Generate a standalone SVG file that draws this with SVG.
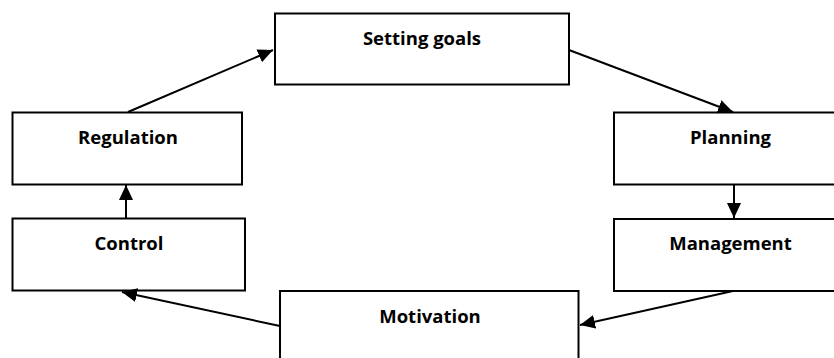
<svg xmlns="http://www.w3.org/2000/svg" width="834" height="358" viewBox="0 0 834 358">
<style>
.box{fill:#fff;stroke:#000;stroke-width:2}
.lbl{font-family:"Open Sans","Noto Sans","Liberation Sans",sans-serif;font-weight:bold;font-size:18.5px;fill:#000;text-anchor:middle}
.con{stroke:#000;stroke-width:2;fill:none;marker-end:url(#ah)}
</style>
<defs>
<marker id="ah" markerUnits="userSpaceOnUse" markerWidth="16" markerHeight="16" viewBox="0 0 16 16" refX="15" refY="8" orient="auto">
<path d="M0,1 L15,8 L0,15 Z" fill="#000"/>
</marker>
</defs>
<rect width="834" height="358" fill="#fff"/>
<g id="setting-goals"><rect class="box" x="275" y="13.5" width="294" height="71"/><text class="lbl" x="422" y="45">Setting goals</text></g>
<g id="planning"><rect class="box" x="614" y="112.5" width="240" height="72"/><text class="lbl" x="730.5" y="143.5">Planning</text></g>
<g id="management"><rect class="box" x="614" y="219" width="240" height="72"/><text class="lbl" x="730.5" y="250">Management</text></g>
<g id="motivation"><rect class="box" x="280" y="291" width="298.5" height="80"/><text class="lbl" x="430" y="322.5">Motivation</text></g>
<g id="control"><rect class="box" x="12.5" y="218.5" width="232.5" height="72"/><text class="lbl" x="129" y="250">Control</text></g>
<g id="regulation"><rect class="box" x="12.5" y="112.5" width="229.5" height="72"/><text class="lbl" x="128" y="144">Regulation</text></g>
<g id="connectors">
<line class="con" x1="569" y1="50" x2="733" y2="112"/>
<line class="con" x1="734" y1="185" x2="734" y2="218"/>
<line class="con" x1="733" y1="291" x2="580" y2="325"/>
<line class="con" x1="280" y1="326" x2="122" y2="292"/>
<line class="con" x1="126" y1="218" x2="126" y2="185"/>
<line class="con" x1="128" y1="112" x2="273" y2="50"/>
</g>
</svg>
